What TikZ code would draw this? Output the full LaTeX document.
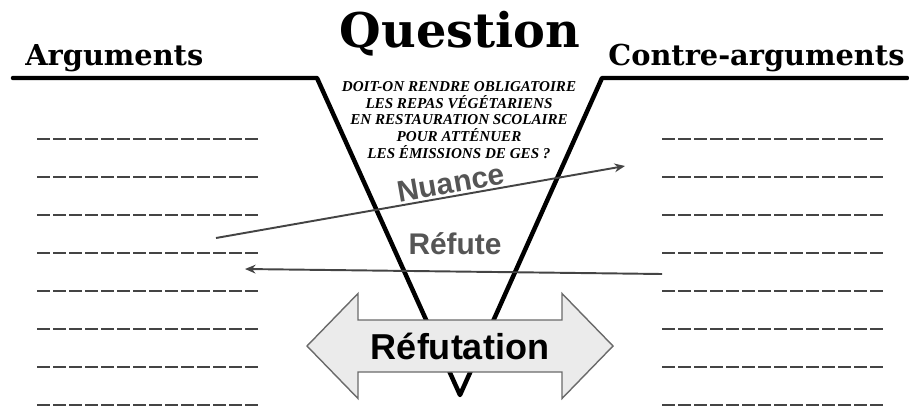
\documentclass[tikz,border=0pt]{standalone}
\usepackage{fontspec}
\setmainfont{Liberation Sans}
\newfontfamily\headfont{DejaVu Serif}
\newfontfamily\qfont{Liberation Serif}
\usepackage{tikz}
\usetikzlibrary{positioning, calc, arrows.meta}
\definecolor{inkgray}{HTML}{444444}
\definecolor{txtgray}{HTML}{555555}
\definecolor{boxfill}{HTML}{EBEBEB}
\definecolor{boxline}{HTML}{6A6A6A}

\begin{document}
\begin{tikzpicture}[
    x=0.02cm, y=-0.02cm,
    >={Stealth[length=6pt, width=5pt]},
    title/.style={font=\headfont\bfseries\fontsize{16.4}{19}\selectfont, anchor=base west, inner sep=0pt},
    bigtitle/.style={font=\headfont\bfseries\fontsize{27.2}{31}\selectfont, anchor=base, inner sep=0pt},
    qtext/.style={font=\qfont\bfseries\itshape\fontsize{8.6}{9.6}\selectfont, align=center, inner sep=0pt},
    guide/.style={line width=2.55pt, line cap=round, line join=round},
    blank/.style={inkgray, line width=1.1pt, dash pattern=on 2.544mm off 0.66mm},
    link/.style={->, inkgray, line width=1.1pt},
    tag/.style={txtgray, font=\bfseries\fontsize{17}{20}\selectfont}
]
\useasboundingbox (0,0) rectangle (909,406);

% titres
\node[title] (args) at (25,65) {Arguments};
\node[title] (contra) at (608,65) {Contre-arguments};
\node[bigtitle] (quest) at (460,47) {Question};

% entonnoir
\draw[guide] (13,78) -- (317,78) -- (460,395) -- (602,78) -- (907,78);

% la question
\node[qtext] (qbody) at (459,120) {DOIT-ON RENDRE OBLIGATOIRE\\LES  REPAS VÉGÉTARIENS\\EN RESTAURATION SCOLAIRE\\POUR ATTÉNUER\\LES ÉMISSIONS DE GES ?};

% lignes a remplir
\foreach \row in {0,...,7} {
    \draw[blank] (37,{139+38*\row}) -- (258,{139+38*\row});
    \draw[blank] (662,{139+38*\row}) -- (884,{139+38*\row});
}

% fleches
\coordinate (nuFrom) at (216,238);
\coordinate (nuTo) at (625,166);
\draw[link] (nuFrom) -- node[tag, sloped, above=-2pt, pos=.58] (nuance) {Nuance} (nuTo);

\coordinate (reFrom) at (662,274);
\coordinate (reTo) at (245,269);
\draw[link] (reFrom) -- (reTo);
\node[tag] (refute) at (455,244) {Réfute};

% double fleche
\coordinate (dbl) at (460,346);
\draw[boxline, fill=boxfill, line width=0.8pt, line join=miter] (dbl) ++(-153,0) -- ++(51,-52.5) -- ++(0,26.5) -- ++(204,0) -- ++(0,-26.5) -- ++(51,52.5) -- ++(-51,52.5) -- ++(0,-26.5) -- ++(-204,0) -- ++(0,26.5) -- cycle;
\node[font=\bfseries\fontsize{20.5}{24}\selectfont] (refutation) at (dbl) {Réfutation};

\end{tikzpicture}
\end{document}
